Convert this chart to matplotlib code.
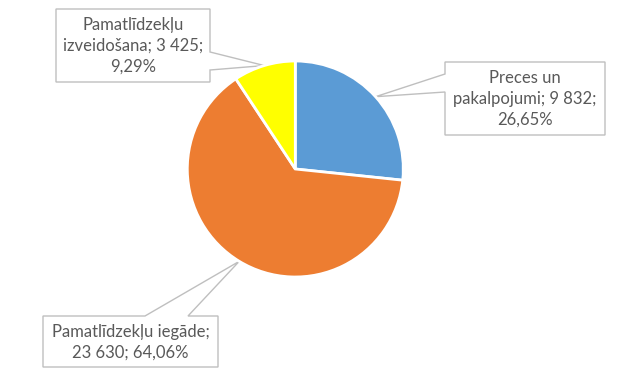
import numpy as np
import matplotlib
matplotlib.use("Agg")
import matplotlib.pyplot as plt
from matplotlib.patches import Polygon

categories = ["Preces un pakalpojumi", "Pamatlīdzekļu iegāde", "Pamatlīdzekļu izveidošana"]
values = [9832, 23630, 3425]
value_labels = ["9 832", "23 630", "3 425"]
pct_labels = ["26,65%", "64,06%", "9,29%"]
colors = ["#5B9BD5", "#ED7D31", "#FFFF00"]

label_texts = [
    "Preces un\npakalpojumi; 9 832;\n26,65%",
    "Pamatlīdzekļu iegāde;\n23 630; 64,06%",
    "Pamatlīdzekļu\nizveidošana; 3 425;\n9,29%",
]

W, H = 643, 378
fig = plt.figure(figsize=(W / 100, H / 100), dpi=100)
fig.patch.set_facecolor("white")

cx, cy, r = 295.3, 169.0, 108.0
ax = fig.add_axes([(cx - r) / W, (H - cy - r) / H, 2 * r / W, 2 * r / H])
wedges, _ = ax.pie(values, colors=colors, startangle=90, counterclock=False,
                   radius=1.0, wedgeprops=dict(edgecolor="white", linewidth=2))
ax.set_xlim(-1, 1)
ax.set_ylim(-1, 1)
ax.set_aspect("auto")
ax.axis("off")

ov = fig.add_axes([0, 0, 1, 1], zorder=-1)
ov.set_xlim(0, W)
ov.set_ylim(H, 0)
ov.axis("off")

total = sum(values)
angles = []
start = 90.0
for v in values:
    span = v / total * 360
    angles.append(start - span / 2)
    start -= span

def tip(i):
    a = np.deg2rad(angles[i])
    disp = ax.transData.transform((np.cos(a), np.sin(a)))
    return ov.transData.inverted().transform(disp)

# boxes: (x0, y0, x1, y1), side of pointer, base points
boxes = [
    ((445, 62, 605, 135), "left", (74, 92)),
    ((43, 316, 218, 367), "top", (145, 188)),
    ((56, 9, 210, 82), "right", (52, 70)),
]

for i, ((x0, y0, x1, y1), side, (b0, b1)) in enumerate(boxes):
    tx, ty = tip(i)
    if side == "left":
        pts = [(x0, y0), (x1, y0), (x1, y1), (x0, y1), (x0, b1), (tx, ty), (x0, b0)]
    elif side == "right":
        pts = [(x0, y0), (x1, y0), (x1, b0), (tx, ty), (x1, b1), (x1, y1), (x0, y1)]
    else:
        pts = [(x0, y0), (b0, y0), (tx, ty), (b1, y0), (x1, y0), (x1, y1), (x0, y1)]
    ov.add_patch(Polygon(pts, closed=True, facecolor="white", edgecolor="#BFBFBF", linewidth=1))
    ov.text((x0 + x1) / 2, (y0 + y1) / 2 + 0.5, label_texts[i], ha="center", va="center",
            fontsize=12, color="#595959", family="Lato", linespacing=1.36)

fig.savefig("out.png", dpi=100, facecolor="white")
